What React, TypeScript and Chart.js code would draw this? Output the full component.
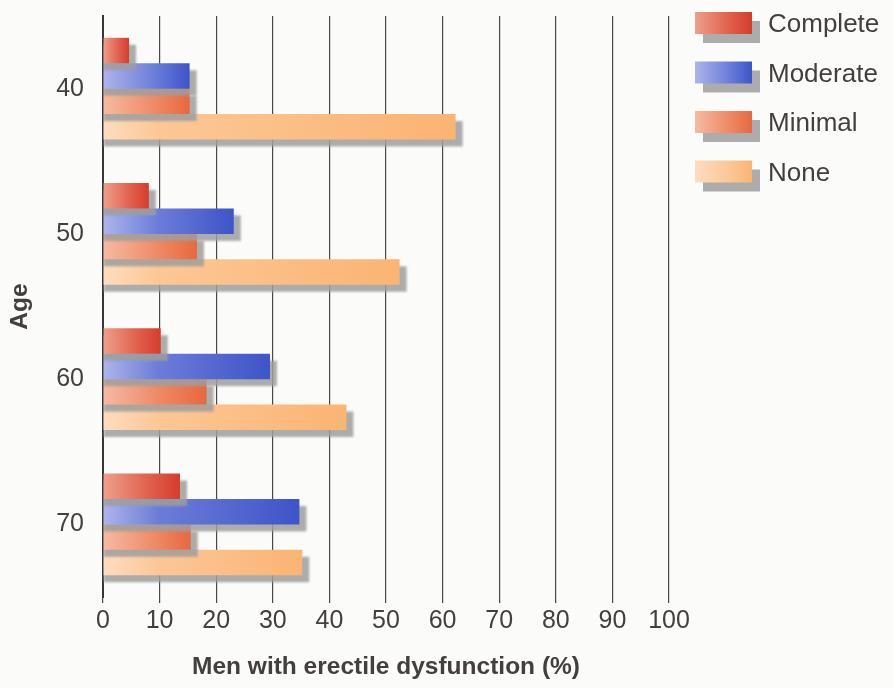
import React, { useEffect, useRef } from "react";
import { Chart, registerables } from "chart.js";

Chart.register(...registerables);

// ---- Data ----
const ageGroups = ["40", "50", "60", "70"];
const seriesNames = ["Complete", "Moderate", "Minimal", "None"];
const completeValues = [4.6, 8.1, 10.2, 13.6];
const moderateValues = [15.3, 23.1, 29.5, 34.7];
const minimalValues = [15.3, 16.6, 18.3, 15.5];
const noneValues = [62.3, 52.4, 43.0, 35.2];
const xMin = 0;
const xMax = 100;
const xStep = 10;
const xTitle = "Men with erectile dysfunction (%)";
const yTitle = "Age";

// ---- Styles ----
const gradientStops: [string, string, string][] = [
  ["#eea08c", "#e0604c", "#d63c2c"],
  ["#adb5ec", "#6c7dd8", "#3e54c8"],
  ["#f6baa2", "#ee8a66", "#e7683e"],
  ["#fddcc0", "#fcc796", "#fbb472"],
];
const FONT = "'Liberation Sans', Arial, Helvetica, sans-serif";
const TEXT = "#443e3e";
const SHADOW = "rgba(158,158,158,0.85)";

const seriesValues = [completeValues, moderateValues, minimalValues, noneValues];

function makeGradient(ctx: CanvasRenderingContext2D, x0: number, x1: number, i: number) {
  const [c0, c1, c2] = gradientStops[i];
  const g = ctx.createLinearGradient(x0, 0, x1, 0);
  const len = x1 - x0;
  const midPos = Math.min(0.6, 55 / len);
  g.addColorStop(0, c0);
  g.addColorStop(midPos, c1);
  g.addColorStop(1, c2);
  return g;
}

function barGradient(ctx: any, i: number) {
  const chart = ctx.chart;
  const last = gradientStops[i][2];
  if (ctx.type !== "data") return last;
  const xs = chart.scales && chart.scales.x;
  if (!xs || !chart.chartArea) return last;
  const x0 = xs.getPixelForValue(0);
  const x1 = xs.getPixelForValue(ctx.raw as number);
  if (!isFinite(x0) || !isFinite(x1) || x1 - x0 < 1) return last;
  return makeGradient(chart.ctx, x0, x1, i);
}

const shadowPlugin = {
  id: "barShadow",
  beforeDatasetDraw(chart: any, args: any) {
    const ctx = chart.ctx;
    const meta = args.meta;
    ctx.save();
    const a = chart.chartArea;
    ctx.beginPath();
    ctx.rect(a.left, a.top, a.right - a.left + 20, a.bottom - a.top + 20);
    ctx.clip();
    ctx.fillStyle = SHADOW;
    ctx.filter = "blur(0.8px)";
    for (const el of meta.data) {
      const p = el.getProps(["x", "y", "base", "height"], true);
      const top = p.y - p.height / 2;
      ctx.fillRect(p.base, top + 7, p.x - p.base + 7, p.height);
    }
    ctx.restore();
  },
};

const legendPlugin = {
  id: "customLegend",
  afterDraw(chart: any) {
    const ctx = chart.ctx;
    ctx.save();
    const bx = 695;
    const bw = 57;
    const bh = 22;
    seriesNames.forEach((name, i) => {
      const by = 12 + i * 49.5;
      ctx.fillStyle = SHADOW;
      ctx.fillRect(bx + 8, by + 9, bw, bh);
      ctx.fillStyle = makeGradient(ctx, bx, bx + bw, i);
      ctx.fillRect(bx, by, bw, bh);
      ctx.fillStyle = TEXT;
      ctx.font = `26px ${FONT}`;
      ctx.textAlign = "left";
      ctx.textBaseline = "middle";
      ctx.fillText(name, 768, by + bh / 2 + 2);
    });
    ctx.restore();
  },
};

export default function App() {
  const ref = useRef<HTMLCanvasElement>(null);
  useEffect(() => {
    document.body.style.margin = "0";
    document.body.style.background = "#fbfbfa";
    const canvas = ref.current!;
    const chart = new Chart(canvas, {
      type: "bar",
      data: {
        labels: ageGroups,
        datasets: seriesNames.map((name, i) => ({
          label: name,
          data: seriesValues[i],
          backgroundColor: (c: any) => barGradient(c, i),
          borderWidth: 0,
          categoryPercentage: 0.7,
          barPercentage: 1.0,
        })),
      },
      options: {
        indexAxis: "y",
        responsive: false,
        animation: false,
        devicePixelRatio: 1,
        layout: { padding: { left: 0, right: 224, top: 16, bottom: 0 } },
        plugins: {
          legend: { display: false },
          tooltip: { enabled: false },
        },
        scales: {
          x: {
            type: "linear",
            min: xMin,
            max: xMax,
            afterFit: (s: any) => {
              s.height = 91;
              s.paddingLeft = 0;
              s.paddingRight = 0;
            },
            ticks: {
              stepSize: xStep,
              color: TEXT,
              padding: 3,
              font: { family: FONT, size: 25 },
            },
            grid: {
              color: "#4f4646",
              lineWidth: 1.2,
              drawTicks: true,
              tickLength: 6,
            },
            border: { display: false },
            title: {
              display: true,
              text: xTitle,
              color: TEXT,
              font: { family: FONT, size: 24.5, weight: "bold" },
              padding: { top: 0, bottom: 6 },
            },
          },
          y: {
            type: "category",
            z: 1,
            afterFit: (s: any) => {
              s.width = 103;
              s.paddingTop = 0;
              s.paddingBottom = 0;
            },
            ticks: {
              color: TEXT,
              padding: 19,
              font: { family: FONT, size: 25 },
            },
            grid: { display: false, drawTicks: false },
            border: { display: true, color: "#3a3434", width: 2 },
            title: {
              display: true,
              text: yTitle,
              color: TEXT,
              font: { family: FONT, size: 24.5, weight: "bold" },
              padding: { top: 6, bottom: 0 },
            },
          },
        },
      },
      plugins: [shadowPlugin, legendPlugin],
    } as any);
    return () => chart.destroy();
  }, []);
  return (
    <div style={{ width: 893, height: 688 }}>
      <canvas ref={ref} width={893} height={688} style={{ width: 893, height: 688, display: "block" }} />
    </div>
  );
}
